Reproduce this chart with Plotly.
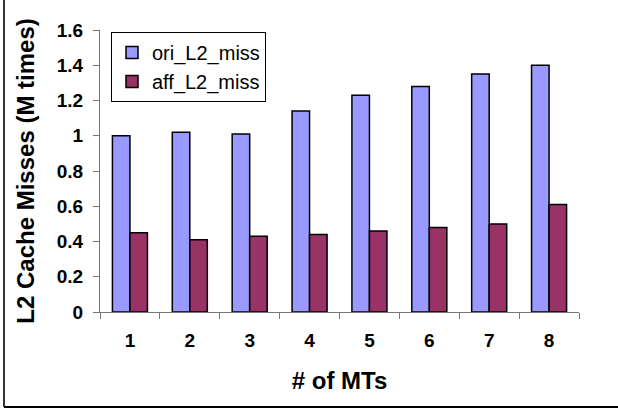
import plotly.graph_objects as go

categories = ["1", "2", "3", "4", "5", "6", "7", "8"]
ori_L2_miss = [1.00, 1.02, 1.01, 1.14, 1.23, 1.28, 1.35, 1.40]
aff_L2_miss = [0.45, 0.41, 0.43, 0.44, 0.46, 0.48, 0.50, 0.61]
y_ticks = [0, 0.2, 0.4, 0.6, 0.8, 1.0, 1.2, 1.4, 1.6]
y_tick_text = ["0", "0.2", "0.4", "0.6", "0.8", "1", "1.2", "1.4", "1.6"]

W, H = 618, 408
ML, MR, MT, MB = 100, 39, 30, 96
FONT = "Liberation Sans, Arial, sans-serif"

fig = go.Figure()
fig.add_trace(go.Bar(x=categories, y=ori_L2_miss, name="ori_L2_miss",
                     marker=dict(color="#9999FF", line=dict(color="#000000", width=1.5))))
fig.add_trace(go.Bar(x=categories, y=aff_L2_miss, name="aff_L2_miss",
                     marker=dict(color="#993366", line=dict(color="#000000", width=1.5))))

pw = W - ML - MR
ph = H - MT - MB
def px_x(x):
    return (x - ML) / pw
def px_y(y):
    return (H - MB - y) / ph

# outer frame (left and bottom edges visible)
fig.add_shape(type="line", xref="paper", yref="paper",
              x0=px_x(4), x1=px_x(4), y0=px_y(407), y1=px_y(-2),
              line=dict(color="#333333", width=2))
fig.add_shape(type="line", xref="paper", yref="paper",
              x0=px_x(4), x1=px_x(620), y0=px_y(407), y1=px_y(407),
              line=dict(color="#000000", width=2))

fig.update_layout(
    width=W, height=H,
    margin=dict(l=ML, r=MR, t=MT, b=MB, autoexpand=False),
    paper_bgcolor="white", plot_bgcolor="white",
    barmode="group", bargap=0.415, bargroupgap=0,
    font=dict(family=FONT, color="black"),
    showlegend=True,
    legend=dict(x=px_x(111), y=px_y(32), xanchor="left", yanchor="top",
                bordercolor="black", borderwidth=1, bgcolor="white",
                font=dict(family=FONT, size=20, color="black"),
                itemwidth=30, tracegroupgap=0),
    xaxis=dict(type="category", showline=True, linecolor="#777777", linewidth=1,
               ticks="outside", ticklen=6, tickcolor="#777777", tickson="boundaries",
               showgrid=False, zeroline=False,
               tickfont=dict(family=FONT, size=19, weight="bold"),
               ticklabelstandoff=11,
               title=dict(text="# of MTs", font=dict(family=FONT, size=24, weight="bold"),
                          standoff=22)),
    yaxis=dict(range=[0, 1.6], tickvals=y_ticks, ticktext=y_tick_text,
               showline=True, linecolor="#777777", linewidth=1,
               ticks="outside", ticklen=6, tickcolor="#777777",
               showgrid=False, zeroline=False,
               tickfont=dict(family=FONT, size=19, weight="bold"),
               ticklabelstandoff=6,
               title=dict(text="L2 Cache Misses (M times)",
                          font=dict(family=FONT, size=24, weight="bold"),
                          standoff=15)),
)

fig.write_html("out.html",
               config={"displayModeBar": False},
               post_script="document.body.style.margin='0';document.body.style.overflow='hidden';")
